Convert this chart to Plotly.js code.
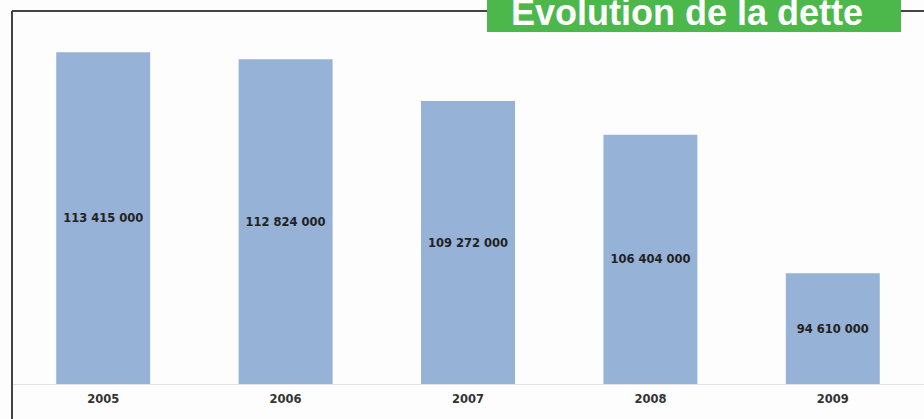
<!DOCTYPE html>
<html>
<head>
<meta charset="utf-8">
<script src="https://cdn.plot.ly/plotly-3.0.1.min.js"></script>
<style>html,body{margin:0;padding:0;background:#fdfdfd;}#chart{width:924px;height:419px;}</style>
</head>
<body>
<div id="chart"></div>
<script>
const years = ['2005', '2006', '2007', '2008', '2009'];
const debt = [113415000, 112824000, 109272000, 106404000, 94610000];
const chartTitle = 'Evolution de la dette';
const yMin = 85195000;
const yMax = 116934000;

const W = 924, H = 419;
const margin = {l: 12, r: 0, t: 11, b: 35};
const pw = W - margin.l - margin.r;
const ph = H - margin.t - margin.b;
const px = X => (X - margin.l) / pw;
const py = Y => (H - margin.b - Y) / ph;

const fmt = v => String(v).replace(/\B(?=(\d{3})+(?!\d))/g, ' ');

const trace = {
  type: 'bar',
  x: years,
  y: debt.map(d => d - yMin),
  base: yMin,
  width: 0.515,
  marker: {color: '#96b2d6'},
  text: debt.map(fmt),
  texttemplate: '%{text}',
  textposition: 'inside',
  insidetextanchor: 'middle',
  textangle: 0,
  constraintext: 'none',
  textfont: {family: 'DejaVu Sans', size: 11.5, color: '#222', weight: 'bold'},
  hoverinfo: 'skip'
};

const layout = {
  width: W, height: H,
  margin: margin,
  paper_bgcolor: '#fdfdfd',
  plot_bgcolor: '#fdfdfd',
  showlegend: false,
  hovermode: false,
  uniformtext: {mode: false},
  xaxis: {
    type: 'category',
    showline: true, linecolor: '#e2e2e2', linewidth: 1,
    showgrid: false, zeroline: false, ticks: '',
    ticklabelstandoff: 4,
    tickfont: {family: 'DejaVu Sans', size: 11.5, color: '#333', weight: 'bold'}
  },
  yaxis: {
    range: [yMin, yMax],
    visible: false, showgrid: false, zeroline: false
  },
  shapes: [
    {type: 'line', xref: 'paper', yref: 'paper', x0: 0, x1: px(487), y0: 1, y1: 1, line: {color: '#444', width: 2}},
    {type: 'line', xref: 'paper', yref: 'paper', x0: px(901), x1: px(930), y0: 1, y1: 1, line: {color: '#444', width: 2}},
    {type: 'line', xref: 'paper', yref: 'paper', x0: 0, x1: 0, y0: py(11), y1: py(425), line: {color: '#444', width: 2}},
    {type: 'rect', xref: 'paper', yref: 'paper', x0: px(487), x1: px(901), y0: py(32), y1: py(-5), fillcolor: '#4cb84b', line: {width: 0}}
  ],
  annotations: [
    {text: chartTitle, xref: 'paper', yref: 'paper', x: px(687), y: py(12), xanchor: 'center', yanchor: 'middle',
     showarrow: false, font: {family: 'Liberation Sans', size: 36, color: '#ffffff', weight: 'bold'}}
  ]
};

Plotly.newPlot('chart', [trace], layout, {staticPlot: true, displayModeBar: false});
</script>
</body>
</html>
